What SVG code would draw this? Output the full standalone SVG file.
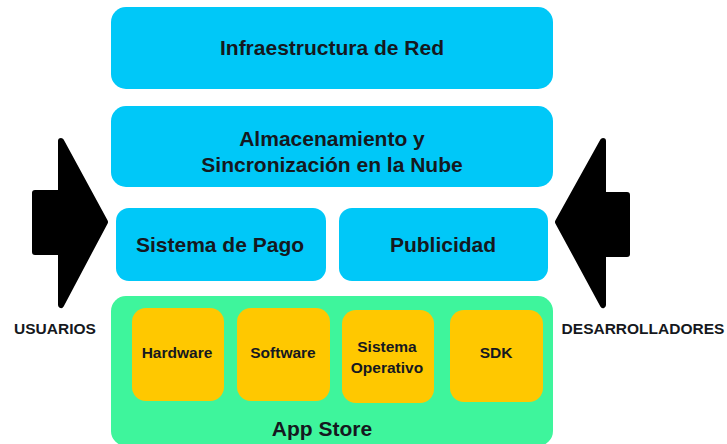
<svg xmlns="http://www.w3.org/2000/svg" width="727" height="444" viewBox="0 0 727 444">
<style>
text{font-family:"Liberation Sans",Arial,sans-serif;font-weight:bold;fill:#151820;text-anchor:middle}
.cyan{fill:#00c8f8}
.green{fill:#3ef59c}
.orange{fill:#ffc800}
.big{font-size:21px}
.mid{font-size:15.5px}
.arrow{fill:#000;stroke:#000;stroke-width:6;stroke-linejoin:round}
</style>
<rect width="727" height="444" fill="#fff"/>
<g id="infraestructura">
<rect class="cyan" x="111" y="7" width="442" height="82" rx="15"/>
<text class="big" x="332" y="55">Infraestructura de Red</text>
</g>
<g id="almacenamiento">
<rect class="cyan" x="111" y="106" width="442" height="81" rx="15"/>
<text class="big" x="332" y="146">Almacenamiento y</text>
<text class="big" x="332" y="172">Sincronización en la Nube</text>
</g>
<g id="pago">
<rect class="cyan" x="116" y="208" width="210" height="73" rx="13"/>
<text class="big" x="220" y="252">Sistema de Pago</text>
</g>
<g id="publicidad">
<rect class="cyan" x="339" y="208" width="209" height="73" rx="13"/>
<text class="big" x="443" y="252">Publicidad</text>
</g>
<g id="appstore">
<rect class="green" x="111" y="296" width="442" height="150" rx="15"/>
<text class="big" x="322" y="436">App Store</text>
</g>
<g id="hardware">
<rect class="orange" x="132" y="308" width="92" height="93" rx="14"/>
<text class="mid" x="177" y="358">Hardware</text>
</g>
<g id="software">
<rect class="orange" x="237" y="308" width="93" height="93" rx="14"/>
<text class="mid" x="283" y="358">Software</text>
</g>
<g id="sistema-operativo">
<rect class="orange" x="342" y="310" width="92" height="93" rx="14"/>
<text class="mid" x="387" y="352">Sistema</text>
<text class="mid" x="387" y="373">Operativo</text>
</g>
<g id="sdk">
<rect class="orange" x="450" y="310" width="93" height="92" rx="14"/>
<text class="mid" x="496" y="358">SDK</text>
</g>
<g id="usuarios">
<polygon class="arrow" points="61,141 105,222 61,305 61,252 35,252 35,193 61,193"/>
<text class="mid" x="55" y="334">USUARIOS</text>
</g>
<g id="desarrolladores">
<polygon class="arrow" points="603,141 558,222 603,305 603,254 627,254 627,195 603,195"/>
<text class="mid" x="643" y="334">DESARROLLADORES</text>
</g>
</svg>
